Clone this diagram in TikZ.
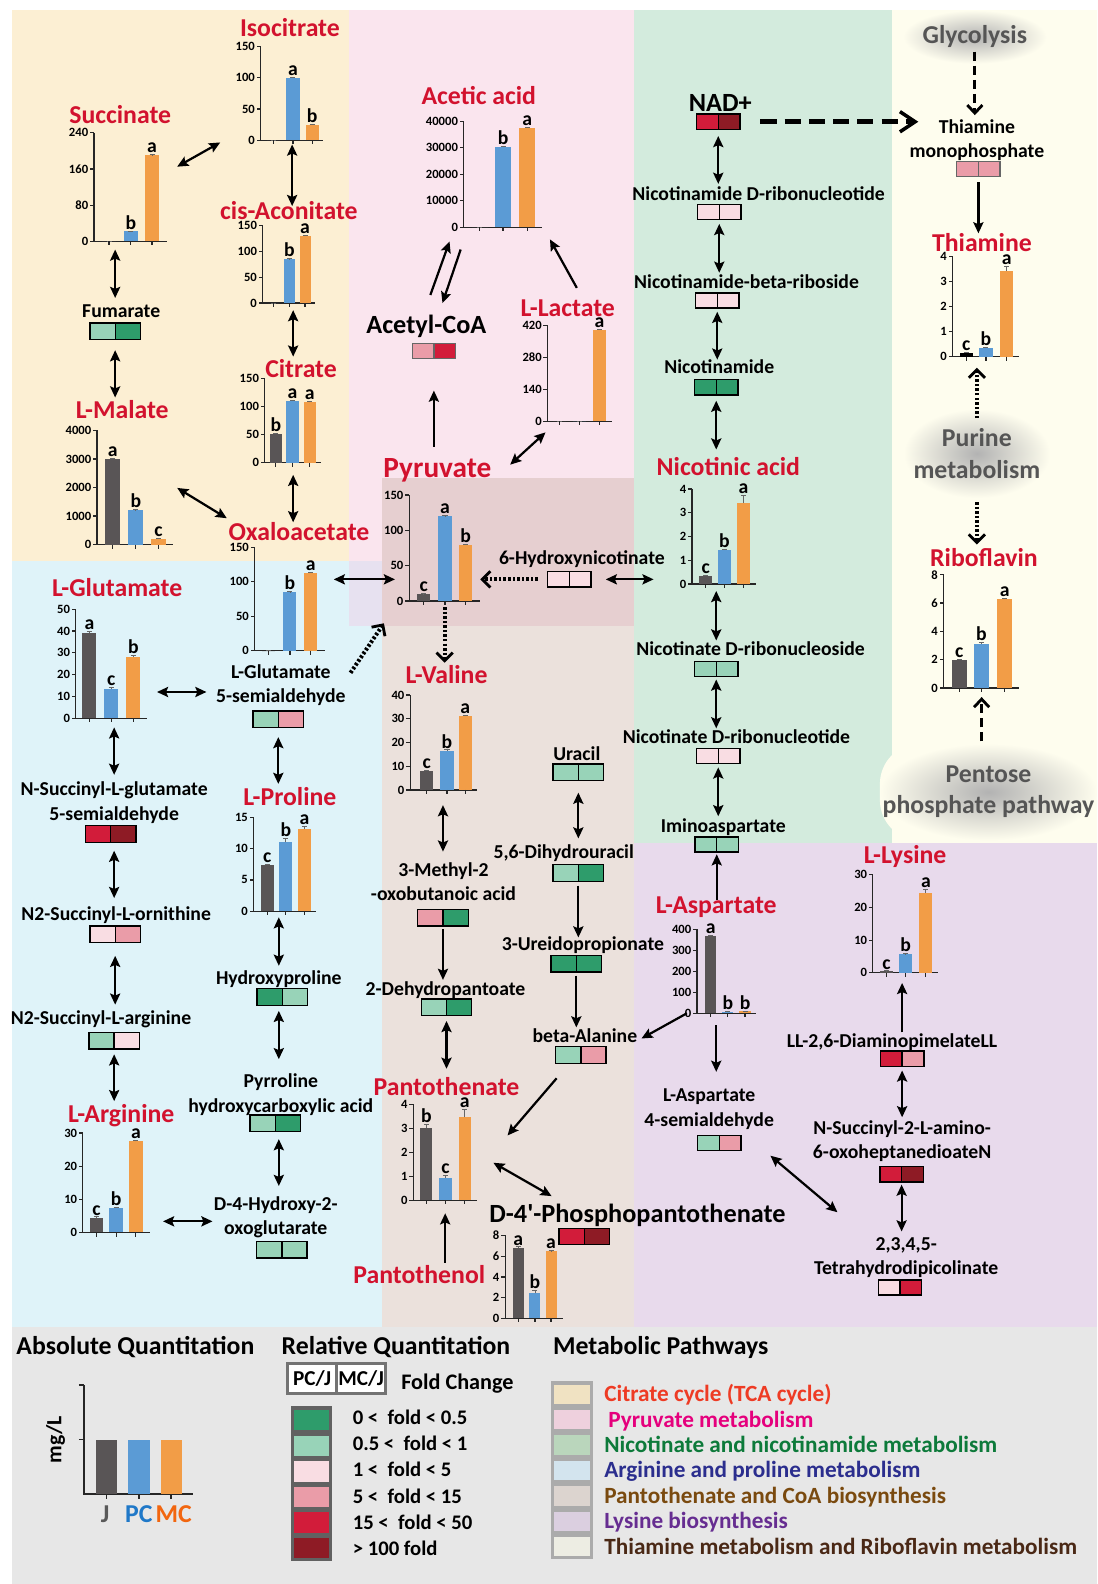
\documentclass[tikz,border=0pt]{standalone}
\usepackage{fontspec}
\setmainfont{Carlito}
\usetikzlibrary{arrows.meta}

\definecolor{titred}{HTML}{D2122E}
\definecolor{jcol}{HTML}{595556}
\definecolor{pcol}{HTML}{5B9BD5}
\definecolor{mcol}{HTML}{F29D47}
\definecolor{dgreen}{HTML}{2E9C6B}
\definecolor{lgreen}{HTML}{98D3B8}
\definecolor{ppink}{HTML}{F9DDE3}
\definecolor{mpink}{HTML}{EA9CA8}
\definecolor{redc}{HTML}{D21C3A}
\definecolor{dred}{HTML}{8E1B25}
\definecolor{tcabg}{HTML}{FCEFD3}
\definecolor{pyrbg}{HTML}{FAE5EE}
\definecolor{argbg}{HTML}{DFF3F9}
\definecolor{panbg}{HTML}{EBE1DC}
\definecolor{pyrpan}{HTML}{E6CFD0}
\definecolor{pyrarg}{HTML}{E7E1F0}
\definecolor{nicbg}{HTML}{D3EBDD}
\definecolor{thibg}{HTML}{FEFDEE}
\definecolor{lysbg}{HTML}{E8DAEC}
\definecolor{legbg}{HTML}{E7E7E7}
\definecolor{cloudtxt}{HTML}{555555}
\definecolor{swtca}{HTML}{F0E2C2}
\definecolor{swpyr}{HTML}{EED0DD}
\definecolor{swnic}{HTML}{BAD6BC}
\definecolor{swarg}{HTML}{D3E4EE}
\definecolor{swpan}{HTML}{DCD4CF}
\definecolor{swlys}{HTML}{DBCFE0}
\definecolor{swthi}{HTML}{EDEDE3}
\definecolor{txtca}{HTML}{EE3B24}
\definecolor{txpyr}{HTML}{E5007D}
\definecolor{txnic}{HTML}{0D7A3A}
\definecolor{txarg}{HTML}{2B2E8E}
\definecolor{txpan}{HTML}{7A4A0F}
\definecolor{txlys}{HTML}{662D91}
\definecolor{txthi}{HTML}{4A2815}
\definecolor{jtxt}{HTML}{595959}
\definecolor{pctxt}{HTML}{1F78C8}
\definecolor{mctxt}{HTML}{F2660F}

% bar chart: name, axis x, baseline y, axis height, max, ticks, bars (x/value/error/colour/letter), bar width, axis length
\newcommand{\barchart}[9]{%
  \pgfmathsetmacro\pxunit{#4/#5}%
  \begin{scope}[shift={(#2,#3)}, y=\pxunit pt]
    \node[chartframe, minimum width=#9pt, minimum height=#4pt] (#1) at (0,0) {};
    \draw[axisline] (0,#5) -- (0,0) -- (#9,0);
    \foreach \tv/\tl [count=\k] in {#6}{
      \draw[axisline] (0,\tv) -- (-4,\tv);
      \node[ticklbl] (#1-t\k) at (-4,\tv) {\tl};
    }
    \foreach \bx/\bv/\be/\bc/\bl [count=\k] in {#7}{
      \fill[\bc] ({\bx-#8/2},0) rectangle ({\bx+#8/2},\bv);
      \draw[errline] (\bx,\bv) -- (\bx,{\bv+\be}) ({\bx-2.5},{\bv+\be}) -- ({\bx+2.5},{\bv+\be});
      \draw[axisline] (\bx,0) -- ++(0pt,-4pt);
      \node[sig] (#1-s\k) at (\bx,{\bv+\be}) {\bl};
    }
  \end{scope}}

\begin{document}
\begin{tikzpicture}[%
    x=1pt, y=-1pt,
    >={Stealth[length=11pt,width=10pt,inset=2pt]},
    conn/.style={line width=2.2pt},
    dotarr/.style={line width=4pt, dash pattern=on 2.5pt off 2pt,
      -{Straight Barb[length=8pt,width=16pt,line width=2.8pt]}},
    dasharr/.style={line width=3.2pt, dash pattern=on 9pt off 5pt,
      -{Straight Barb[length=8pt,width=15pt,line width=2.8pt]}},
    nadarr/.style={line width=4.5pt, dash pattern=on 16pt off 8pt,
      -{Straight Barb[length=15pt,width=20pt,line width=3.5pt]}},
    axisline/.style={line width=1.2pt, black!85},
    errline/.style={line width=0.8pt, black!60},
    chartframe/.style={inner sep=0pt, anchor=south west},
    ticklbl/.style={font=\bfseries\fontsize{12.5}{14}\selectfont, anchor=east, inner sep=1.5pt},
    sig/.style={font=\bfseries\fontsize{19.5}{20}\selectfont, anchor=south, inner sep=1.5pt},
    title/.style={font=\bfseries\fontsize{25.5}{28}\selectfont, text=titred, anchor=base, inner sep=1pt},
    lbl/.style={font=\bfseries\fontsize{19.5}{24}\selectfont, align=center, inner sep=1pt},
    big/.style={font=\bfseries\fontsize{26}{30}\selectfont, anchor=base, inner sep=1pt},
    fold/.style 2 args={draw=black, line width=1.3pt, minimum width=50pt,
      minimum height=16.5pt, inner sep=0pt,
      path picture={
        \fill[#1] (path picture bounding box.south west) rectangle (path picture bounding box.north);
        \fill[#2] (path picture bounding box.south) rectangle (path picture bounding box.north east);
        \draw[line width=1.3pt] (path picture bounding box.south) -- (path picture bounding box.north);
      }},
    small/.style={minimum width=43pt, minimum height=15pt},
    cloudy/.style={inner color=gray!60, outer color=thibg, text=cloudtxt,
      font=\bfseries\fontsize{25.5}{31}\selectfont, align=center, inner sep=0pt},
    hdr/.style={font=\bfseries\fontsize{25.5}{28}\selectfont, anchor=base, inner sep=1pt},
    lgd/.style={font=\bfseries\fontsize{20.5}{24}\selectfont, anchor=base west, inner sep=0pt},
    pathlgd/.style={font=\bfseries\fontsize{23}{26}\selectfont, anchor=base west, inner sep=0pt},
    ratio/.style={draw=black!55, line width=3pt, fill=white, minimum width=48.5pt,
      minimum height=30pt, inner sep=0pt, font=\bfseries\fontsize{21}{22}\selectfont},
    swatch/.style={draw=black!33, line width=3pt, minimum width=39pt, minimum height=22pt, inner sep=0pt}
    ]
    \useasboundingbox (0,0) rectangle (1086,1568);

    % pathway backgrounds
    \fill[white] (0,0) rectangle (1086,1568);
    \fill[tcabg] (12,10) rectangle (345,555);
    \fill[pyrbg] (345,10) rectangle (628,620);
    \fill[argbg] (12,555) rectangle (378,1314);
    \fill[panbg] (378,620) rectangle (628,1314);
    \fill[pyrpan] (378,473) rectangle (628,620);
    \fill[pyrarg] (345,555) rectangle (378,620);
    \fill[nicbg] (628,10) rectangle (883,834);
    \fill[thibg] (883,10) rectangle (1086,834);
    \fill[lysbg] (628,834) rectangle (1086,1314);
    \fill[legbg] (12,1314) rectangle (1086,1568);

    % side pathways
    \node[cloudy, rounded corners=22pt, minimum width=142pt, minimum height=53pt] (gly) at (965,36.5) {Glycolysis};
    \node[cloudy, rounded corners=35pt, minimum width=145pt, minimum height=88pt] (pur) at (967,449) {Purine\\metabolism};
    \node[cloudy, rounded corners=40pt, minimum width=215pt, minimum height=96pt] (pen) at (978.5,784) {Pentose\\phosphate pathway};

    % titles of measured metabolites
    \node[title] (tIso) at (287,36) {Isocitrate};
    \node[title] (tSuc) at (119,122) {Succinate};
    \node[title] (tCis) at (286,217) {cis-Aconitate};
    \node[title] (tCit) at (298,374) {Citrate};
    \node[title] (tMal) at (121,414) {L-Malate};
    \node[title] (tOxa) at (296,535) {Oxaloacetate};
    \node[title] (tAce) at (474,103) {Acetic acid};
    \node[title] (tLac) at (562,313) {L-Lactate};
    \node[title, font=\bfseries\fontsize{29}{32}\selectfont] (tPyr) at (433,473) {Pyruvate};
    \node[title] (tNic) at (721,471) {Nicotinic acid};
    \node[title] (tThi) at (972,249) {Thiamine};
    \node[title] (tRib) at (974,561) {Riboflavin};
    \node[title] (tGlu) at (116,590) {L-Glutamate};
    \node[title] (tVal) at (442,677) {L-Valine};
    \node[title] (tPro) at (287,797) {L-Proline};
    \node[title] (tArg) at (120,1111) {L-Arginine};
    \node[title] (tPan) at (442,1084) {Pantothenate};
    \node[title] (tPol) at (415,1271) {Pantothenol};
    \node[title] (tAsp) at (709,904) {L-Aspartate};
    \node[title] (tLys) at (896,855) {L-Lysine};

    % absolute quantitation charts
    \barchart{cIso}{258}{139}{93}{150}{0,50,100,150}{13/0/0/jcol/, 32/100/0.8/pcol/a, 51/25/0.8/mcol/b}{13}{62}
    \barchart{cSuc}{93}{239}{107.5}{240}{0,80,160,240}{15/0/0/jcol/, 36.5/22/1/pcol/b, 57.5/190/1.5/mcol/a}{14}{72}
    \barchart{cCis}{260}{300}{76.5}{150}{0,50,100,150}{11/0/0/jcol/, 26.5/85/1/pcol/b, 42/131/1/mcol/a}{11}{52}
    \barchart{cCit}{262}{458}{83}{150}{0,50,100,150}{11/51/1.5/jcol/b, 27.5/110/1.5/pcol/a, 44.5/108/1.5/mcol/a}{12}{56}
    \barchart{cMal}{96}{539}{113}{4000}{0,1000,2000,3000,4000}{15.5/3000/20/jcol/a, 38.5/1200/20/pcol/b, 61/200/20/mcol/c}{15}{75}
    \barchart{cOxa}{252}{644}{102}{150}{0,50,100,150}{14/0/0/jcol/, 35/85/1/pcol/b, 55.5/113/1/mcol/a}{13}{70}
    \barchart{cAce}{459}{225}{105}{40}{0/0,10/10000,20/20000,30/30000,40/40000}{16/0/0/jcol/, 39/30.2/0.3/pcol/b, 63/37.5/0.3/mcol/a}{16}{78}
    \barchart{cLac}{542}{417}{95}{420}{0,140,280,420}{12/0/0/jcol/, 31.5/0/0/pcol/, 51.5/400/3/mcol/a}{13}{64}
    \barchart{cPyr}{405}{595}{105}{150}{0,50,100,150}{14.5/10/0.3/jcol/c, 35.5/120/0.6/pcol/a, 56/80/0.6/mcol/b}{13}{70}
    \barchart{cVal}{406}{782}{94}{40}{0,10,20,30,40}{16.5/8.1/0.2/jcol/c, 36.5/16.6/0.3/pcol/b, 54.5/31.1/0.5/mcol/a}{13}{66}
    \barchart{cPan}{409}{1188}{95}{4}{0,1,2,3,4}{13/3.0/0.15/jcol/b, 32/0.93/0.12/pcol/c, 51/3.45/0.33/mcol/a}{12}{63}
    \barchart{cPhp}{500}{1305}{82}{8}{0,2,4,6,8}{13/6.8/0.1/jcol/a, 29.5/2.4/0.3/pcol/b, 45.5/6.5/0.05/mcol/a}{11}{57}
    \barchart{cAsp}{690}{1003}{83}{400}{0,100,200,300,400}{13.5/370/3/jcol/a, 30.5/8/1/pcol/b, 47.5/9/1/mcol/b}{11}{58}
    \barchart{cNic}{685}{578}{94}{4}{0,1,2,3,4}{13.5/0.34/0.03/jcol/c, 32/1.42/0.05/pcol/b, 51/3.42/0.32/mcol/a}{12.5}{63}
    \barchart{cThi}{943}{353}{99}{4}{0,1,2,3,4}{13.5/0.15/0.02/black/c, 33/0.36/0.02/pcol/b, 53.5/3.42/0.2/mcol/a}{13}{66}
    \barchart{cRib}{934}{681}{112}{8}{0,2,4,6,8}{15.5/1.95/0.08/jcol/c, 37.5/3.1/0.15/pcol/b, 60.5/6.3/0.05/mcol/a}{15}{75}
    \barchart{cGlu}{75}{711}{108}{50}{0,10,20,30,40,50}{13.5/39/1/jcol/a, 35/13.5/0.8/pcol/c, 57/28/0.6/mcol/b}{14}{70.5}
    \barchart{cPro}{251}{902}{93}{15}{0,5,10,15}{13.5/7.3/0.2/jcol/c, 32/11/0.6/pcol/b, 50.5/13.1/0.4/mcol/a}{13}{62}
    \barchart{cArg}{82}{1220}{98.5}{30}{0,10,20,30}{13.5/4.5/0.2/jcol/c, 33/7.5/0.2/pcol/b, 52.5/27.5/0.4/mcol/a}{13.5}{66}
    \barchart{cLys}{864}{963}{97}{30}{0,10,20,30}{13.5/0.5/0.1/jcol/c, 32.5/5.7/0.2/pcol/b, 52.5/24.5/1/mcol/a}{13}{65}

    % relative quantitation metabolites
    \node[lbl, anchor=base] (lFum) at (120,314) {Fumarate};
    \node[fold={lgreen}{dgreen}] (bFum) at (114,328) {};
    \node[big] (lAcc) at (422,330) {Acetyl-CoA};
    \node[fold={mpink}{redc}, small, draw=black!60] (bAcc) at (429.5,347.5) {};
    \node[big] (lNad) at (713,110) {NAD+};
    \node[fold={redc}{dred}, small] (bNad) at (711,120.5) {};
    \node[lbl, anchor=base] (lNmn) at (751,198) {Nicotinamide D-ribonucleotide};
    \node[fold={ppink}{ppink}, small] (bNmn) at (712,210) {};
    \node[lbl, anchor=base] (lNbr) at (739,285.5) {Nicotinamide-beta-riboside};
    \node[fold={ppink}{ppink}, small] (bNbr) at (710,297.5) {};
    \node[lbl, anchor=base] (lNam) at (712,370) {Nicotinamide};
    \node[fold={dgreen}{dgreen}, small] (bNam) at (709,383.5) {};
    \node[lbl, anchor=base] (lHyn) at (576,559) {6-Hydroxynicotinate};
    \node[fold={ppink}{ppink}, small] (bHyn) at (563.5,573.5) {};
    \node[lbl, anchor=base] (lNan) at (743,648.5) {Nicotinate D-ribonucleoside};
    \node[fold={lgreen}{lgreen}, small] (bNan) at (709,662) {};
    \node[lbl, anchor=base] (lNar) at (729,736) {Nicotinate D-ribonucleotide};
    \node[fold={ppink}{ppink}, small] (bNar) at (711,748.5) {};
    \node[lbl, anchor=base] (lImi) at (716,824) {Iminoaspartate};
    \node[fold={lgreen}{lgreen}, small] (bImi) at (709.5,836) {};
    \node[lbl, anchor=north] (lTmp) at (967,117) {Thiamine\\monophosphate};
    \node[fold={mpink}{mpink}, small, draw=black!60] (bTmp) at (968.5,167.5) {};

    \node[lbl, anchor=north] (lGsa) at (278,657) {L-Glutamate\\5-semialdehyde};
    \node[fold={lgreen}{mpink}] (bGsa) at (275.5,712) {};
    \node[lbl, anchor=north] (lNsg) at (113,773) {N-Succinyl-L-glutamate\\5-semialdehyde};
    \node[fold={redc}{dred}] (bNsg) at (109.5,825.7) {};
    \node[lbl, anchor=base] (lOrn) at (115,911.3) {N2-Succinyl-L-ornithine};
    \node[fold={ppink}{mpink}] (bOrn) at (114,925) {};
    \node[lbl, anchor=base] (lSar) at (100,1014.3) {N2-Succinyl-L-arginine};
    \node[fold={lgreen}{ppink}] (bSar) at (113,1030) {};
    \node[lbl, anchor=base] (lHyp) at (276,974.3) {Hydroxyproline};
    \node[fold={dgreen}{lgreen}] (bHyp) at (279.5,987) {};
    \node[lbl, anchor=north] (lPyc) at (278,1062) {Pyrroline\\hydroxycarboxylic acid};
    \node[fold={lgreen}{dgreen}] (bPyc) at (272.5,1112) {};
    \node[lbl, anchor=north] (lHog) at (273,1183) {D-4-Hydroxy-2-\\oxoglutarate};
    \node[fold={lgreen}{lgreen}] (bHog) at (279,1237) {};

    \node[lbl, anchor=base] (lUra) at (571,753) {Uracil};
    \node[fold={lgreen}{lgreen}] (bUra) at (572.5,764.5) {};
    \node[lbl, anchor=base] (lDhu) at (558,850) {5,6-Dihydrouracil};
    \node[fold={lgreen}{dgreen}] (bDhu) at (572.5,864) {};
    \node[lbl, anchor=north] (lMob) at (439,853) {3-Methyl-2\\-oxobutanoic acid};
    \node[fold={mpink}{dgreen}] (bMob) at (438.5,908.5) {};
    \node[lbl, anchor=base] (lUre) at (577,941) {3-Ureidopropionate};
    \node[fold={dgreen}{dgreen}] (bUre) at (570.5,954) {};
    \node[lbl, anchor=base] (lDhp) at (441,985) {2-Dehydropantoate};
    \node[fold={lgreen}{dgreen}] (bDhp) at (442,997) {};
    \node[lbl, anchor=base] (lBal) at (579,1032) {beta-Alanine};
    \node[fold={lgreen}{mpink}] (bBal) at (575,1044.5) {};
    \node[big] (lPhp) at (631,1210) {D-4\textquotesingle-Phosphopantothenate};
    \node[fold={redc}{dred}] (bPhp) at (578.5,1224) {};

    \node[lbl, anchor=north] (lAsa) at (702,1077) {L-Aspartate\\4-semialdehyde};
    \node[fold={lgreen}{mpink}, small] (bAsa) at (712,1131.5) {};
    \node[lbl, anchor=base] (lDap) at (883,1037) {LL-2,6-DiaminopimelateLL};
    \node[fold={redc}{mpink}, small] (bDap) at (893,1048) {};
    \node[lbl, anchor=north] (lNsa) at (893,1108) {N-Succinyl-2-L-amino-\\6-oxoheptanedioateN};
    \node[fold={redc}{dred}, small] (bNsa) at (892.5,1162.5) {};
    \node[lbl, anchor=north] (lThd) at (897,1224) {2,3,4,5-\\Tetrahydrodipicolinate};
    \node[fold={ppink}{redc}, small] (bThd) at (891,1274.5) {};

    % TCA cycle
    \draw[conn,<->] ([xshift=10pt,yshift=74pt]cSuc.south east) -- ([xshift=-40pt,yshift=-2pt]cIso.south west);
    \draw[conn,<->,shorten <=8pt,shorten >=19pt] (bFum |- cSuc.south) -- (bFum |- lFum.base);
    \draw[conn,<->,shorten <=9.75pt,shorten >=20.5pt] (bFum.south) -- (bFum |- tMal.base);
    \draw[conn,<->,shorten <=4pt,shorten >=13pt] (cIso.south) -- (cIso.south |- tCis.base);
    \draw[conn,<->,shorten <=7pt,shorten >=21pt] (cCit |- cCis.south) -- (cCit |- tCit.base);
    \draw[conn,<->,shorten <=12pt,shorten >=18pt] (cCit.south) -- (cCit.south |- tOxa.base);
    \draw[conn,<->] ([xshift=4pt,yshift=56pt]cMal.south east) -- ([xshift=-71.5pt,yshift=22pt]tOxa.base);
    \draw[conn,<->,shorten <=8pt,shorten >=14pt] (cOxa.east |- bHyn) -- (cPyr.west |- bHyn);

    % pyruvate metabolism
    \draw[conn,->] ([xshift=4pt,yshift=38pt]lAcc.base) -- ([xshift=-14pt,yshift=-14pt]cAce.south west);
    \draw[conn,->] ([xshift=-3pt,yshift=-22pt]cAce.south west) -- ([xshift=16pt,yshift=30pt]lAcc.base);
    \draw[conn,->,shorten <=31pt,shorten >=31pt] (bAcc |- tPyr.base) -- (bAcc.south);
    \draw[conn,->] ([xshift=9pt,yshift=28pt]tLac.base) -- ([xshift=7pt,yshift=-12pt]cAce.south east);
    \draw[conn,<->] ([xshift=72pt,yshift=13pt]tPyr.base) -- ([xshift=-2pt,yshift=-11pt]cLac.south west);
    \draw[dotarr,shorten <=9pt] (bHyn.west) -- (cPyr.east |- bHyn);
    \draw[conn,<->,shorten <=14pt,shorten >=38pt] (bHyn.east) -- (cNic.west |- bHyn);
    \draw[dotarr,shorten <=6pt,shorten >=21pt] (cPyr.south) -- (cPyr.south |- tVal.base);
    \draw[dotarr] ([xshift=69pt,yshift=-9pt]lGsa.north) -- ([xshift=-25pt,yshift=-22pt]cPyr.south west);

    % pantothenate and CoA
    \draw[conn,<->,shorten <=15pt,shorten >=10pt] (bMob |- cVal.south) -- (bMob |- lMob.north);
    \draw[conn,->,shorten <=2.25pt,shorten >=15pt] (bMob.south) -- (bMob |- lDhp.base);
    \draw[conn,<->,shorten <=4.75pt,shorten >=26pt] (bDhp.south) -- (bDhp |- tPan.base);
    \draw[conn,<->,shorten <=11.25pt,shorten >=20pt] (bUra.south) -- (bUra |- lDhu.base);
    \draw[conn,->,shorten <=3.75pt,shorten >=13pt] (bDhu.south) -- (bDhu |- lUre.base);
    \draw[conn,->,shorten <=2.75pt,shorten >=15pt] (bUre.south) -- (bUre |- lBal.base);
    \draw[conn,->] ([xshift=-24pt,yshift=-14pt]bBal.south) -- ([xshift=30pt,yshift=64pt]cPan.south east);
    \draw[conn,->] ([xshift=-10pt]cAsp.south west) -- ([xshift=56pt,yshift=4pt]lBal.base);
    \draw[conn,<->] ([xshift=16pt,yshift=37pt]cPan.south east) -- ([xshift=-85pt,yshift=26pt]lPhp.base);
    \draw[conn,->,shorten <=21pt,shorten >=13pt] (cPan |- tPol.base) -- (cPan.south);

    % nicotinate and nicotinamide
    \draw[conn,<->,shorten <=6pt,shorten >=16pt] (bNad.south) -- (bNad |- lNmn.base);
    \draw[conn,<->,shorten <=3.5pt,shorten >=15.5pt] (bNmn.south) -- (bNmn |- lNbr.base);
    \draw[conn,<->,shorten <=3pt,shorten >=14pt] (bNbr.south) -- (bNbr |- lNam.base);
    \draw[conn,<->,shorten <=5pt,shorten >=26pt] (bNam.south) -- (bNam |- tNic.base);
    \draw[conn,<->,shorten <=7pt,shorten >=14.5pt] (bNan |- cNic.south) -- (bNan |- lNan.base);
    \draw[conn,<->,shorten <=2.5pt,shorten >=15pt] (bNan.south) -- (bNan |- lNar.base);
    \draw[conn,<->,shorten <=3pt,shorten >=16pt] (bNar.south) -- (bNar |- lImi.base);
    \draw[nadarr,shorten <=19.5pt,shorten >=59.5pt] (bNad.east) -- (bTmp |- bNad);

    % lysine
    \draw[conn,->,shorten <=13pt,shorten >=1.5pt] (bImi |- tAsp.base) -- (bImi.south);
    \draw[conn,->,shorten <=12pt,shorten >=16pt] (tAsp |- cAsp.south) -- (tAsp |- lAsa.north);
    \draw[conn,<->] ([xshift=28.5pt,yshift=-12.5pt]bAsa.east) -- ([xshift=-68pt,yshift=24pt]lThd.north);
    \draw[conn,->,shorten <=15pt,shorten >=10pt] (bDap |- lDap.base) -- (bDap |- cLys.south);
    \draw[conn,<->,shorten <=3.5pt,shorten >=2pt] (bDap.south) -- (bDap |- lNsa.north);
    \draw[conn,<->,shorten <=2pt,shorten >=5pt] (bNsa.south) -- (bNsa |- lThd.north);

    % arginine and proline
    \draw[conn,<->] ([xshift=9.5pt,yshift=26pt]cGlu.south east) -- ([xshift=-45.5pt,yshift=27pt]bGsa.west);
    \draw[conn,<->,shorten <=9pt,shorten >=6pt] (lNsg |- cGlu.south) -- (lNsg.north);
    \draw[conn,<->,shorten <=7.5pt,shorten >=22.3pt] (lNsg |- bNsg.south) -- (lNsg |- lOrn.base);
    \draw[conn,<->,shorten <=12.25pt,shorten >=19.8pt] (bOrn.south) -- (bOrn |- lSar.base);
    \draw[conn,<->,shorten <=4.75pt,shorten >=21pt] (bSar.south) -- (bSar |- tArg.base);
    \draw[conn,<->] ([xshift=13pt,yshift=11pt]cArg.south east) -- ([xshift=-43pt,yshift=28pt]bHog.west);
    \draw[conn,<->,shorten <=8.75pt,shorten >=21pt] (bGsa.south) -- (bGsa |- tPro.base);
    \draw[conn,<->,shorten <=6pt,shorten >=18.3pt] (lHyp |- cPro.south) -- (lHyp.base);
    \draw[conn,<->,shorten <=4.75pt,shorten >=13.5pt] (lHyp |- bHyp.south) -- (lHyp |- lPyc.north);
    \draw[conn,<->,shorten <=6.75pt,shorten >=9pt] (lHyp |- bPyc.south) -- (lHyp |- lHog.north);

    % thiamine and riboflavin
    \draw[dasharr,shorten <=14.5pt,shorten >=3pt] (gly.center) -- (gly.center |- lTmp.north);
    \draw[conn,->,shorten <=5pt,shorten >=18pt] (bTmp.south) -- (bTmp |- tThi.base);
    \draw[dotarr,shorten <=35pt,shorten >=11pt] (pur.center) -- (pur.center |- cThi.south);
    \draw[dotarr,shorten <=48pt,shorten >=22pt] (pur.center) -- (pur.center |- tRib.base);
    \draw[dasharr,shorten <=50pt,shorten >=9pt] (cRib |- pen.center) -- (cRib.south);

    % legend: absolute quantitation
    \node[hdr] (hAbs) at (134,1341) {Absolute Quantitation};
    \draw[axisline, line width=1.5pt] (83,1371) -- (83,1479) -- (191,1479);
    \draw[axisline, line width=1.5pt] (78,1371) -- (83,1371) (78,1425) -- (83,1425);
    \fill[jcol] (95,1425) rectangle (116,1479);
    \fill[pcol] (127,1425) rectangle (148,1479);
    \fill[mcol] (159,1425) rectangle (180,1479);
    \draw[axisline, line width=1.5pt] (105.5,1479) -- (105.5,1484) (137.5,1479) -- (137.5,1484) (169.5,1479) -- (169.5,1484);
    \node[rotate=90, font=\bfseries\fontsize{21.5}{24}\selectfont] (mgl) at (55,1425) {mg/L};
    \node[hdr, text=jtxt] (gJ) at (104,1507) {J};
    \node[hdr, text=pctxt] (gPC) at (137.5,1507) {PC};
    \node[hdr, text=mctxt] (gMC) at (172,1507) {MC};

    % legend: relative quantitation
    \node[hdr] (hRel) at (392,1341) {Relative Quantitation};
    \node[ratio] (rPC) at (309,1364.5) {PC/J};
    \node[ratio] (rMC) at (357.5,1364.5) {MC/J};
    \node[lgd, font=\bfseries\fontsize{22}{24}\selectfont] (fc) at (397,1375) {Fold Change};
    \fill[black!62] (288,1392) rectangle (329,1545);
    \foreach \fc [count=\i] in {dgreen,lgreen,ppink,mpink,redc,dred}
      \fill[\fc] (291,{1370.7+25.3*\i}) rectangle (326,{1390.7+25.3*\i});
    \foreach \ft [count=\i] in {0 <\ \ fold < 0.5, 0.5 <\ \ fold < 1, 1 <\ \ fold < 5,
        5 <\ \ fold < 15, 15 <\ \ fold < 50, > 100 fold}
      \node[lgd] (f\i) at (349,{1384+26*\i}) {\ft};

    % legend: metabolic pathways
    \node[hdr] (hMet) at (654,1341) {Metabolic Pathways};
    \foreach \sc/\st/\tc [count=\i] in {swtca/Citrate cycle (TCA cycle)/txtca,
        swpyr/\hspace{4pt}Pyruvate metabolism/txpyr,
        swnic/Nicotinate and nicotinamide metabolism/txnic,
        swarg/Arginine and proline metabolism/txarg,
        swpan/Pantothenate and CoA biosynthesis/txpan,
        swlys/Lysine biosynthesis/txlys,
        swthi/Thiamine metabolism and Riboflavin metabolism/txthi}{
      \node[swatch, fill=\sc] (s\i) at (566,{1354.8+25.2*\i}) {};
      \node[pathlgd, text=\tc] (p\i) at (598,{1362.2+25.2*\i}) {\st};
    }
\end{tikzpicture}
\end{document}
